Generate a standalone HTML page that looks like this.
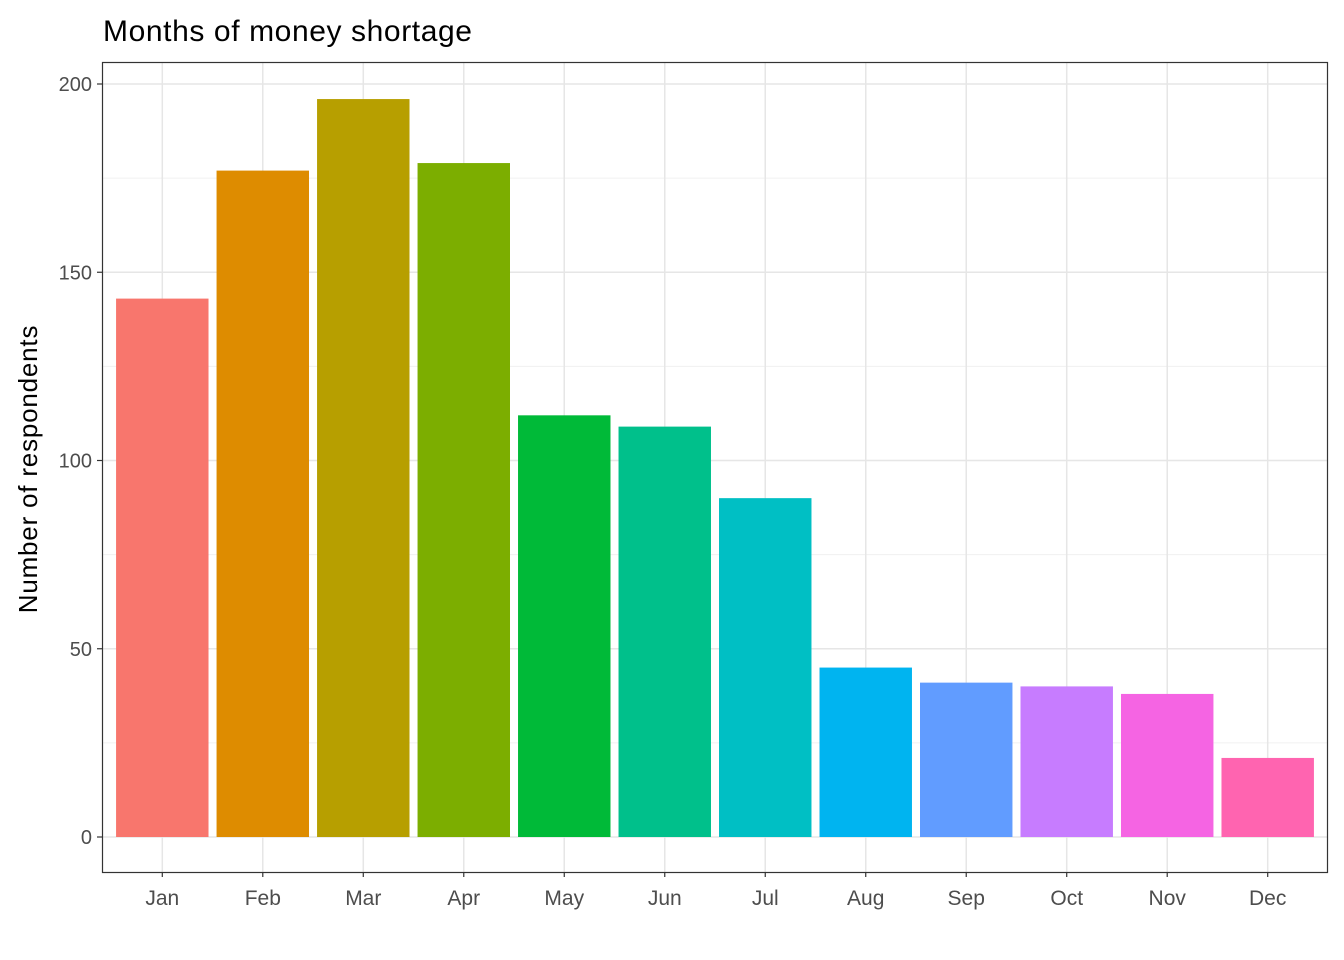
<!DOCTYPE html>
<html><head><meta charset="utf-8"><style>
body{margin:0;background:#fff;}
svg{display:block;font-family:"Liberation Sans",Arial,sans-serif;}
</style></head><body>
<svg id="chart" width="1344" height="960">
<text x="103" y="41" font-size="30" letter-spacing="0.6" fill="#000">Months of money shortage</text>
<g id="grid"></g>
<g id="bars"></g>
<rect x="102.5" y="62.5" width="1225" height="810" fill="none" stroke="#333" stroke-width="1.2"/>
<g id="axes"></g>
<text transform="translate(37,469) rotate(-90)" text-anchor="middle" font-size="26" letter-spacing="0.8" fill="#000">Number of respondents</text>
</svg>
<script>
const categories=["Jan","Feb","Mar","Apr","May","Jun","Jul","Aug","Sep","Oct","Nov","Dec"];
const values=[143,177,196,179,112,109,90,45,41,40,38,21];
const colors=["#F8766D","#DE8C00","#B79F00","#7CAE00","#00BA38","#00C08B","#00BFC4","#00B4F0","#619CFF","#C77CFF","#F564E3","#FF64B0"];
const yTicks=[0,50,100,150,200];
const NS="http://www.w3.org/2000/svg";
const panelLeft=102,panelRight=1328,panelTop=62,panelBottom=872;
const y0=837,y200=84;
const yScale=v=>y0+(y200-y0)*v/200;
const step=(panelRight-panelLeft)/(categories.length+0.2);
const xScale=i=>panelLeft+step*(0.6+i);
const bw=step*0.92;
function mk(tag,attrs,parent){const e=document.createElementNS(NS,tag);for(const k in attrs)e.setAttribute(k,attrs[k]);parent.appendChild(e);return e;}
const grid=document.getElementById('grid'),bars=document.getElementById('bars'),axes=document.getElementById('axes');
for(let i=0;i<yTicks.length-1;i++){const m=(yTicks[i]+yTicks[i+1])/2;
const l=mk('line',{x1:panelLeft,x2:panelRight,y1:yScale(m),y2:yScale(m),stroke:'#f0f0f0','stroke-width':1},grid);

}
yTicks.forEach(t=>{const l=mk('line',{x1:panelLeft,x2:panelRight,y1:yScale(t),y2:yScale(t),stroke:'#e6e6e6','stroke-width':1.5},grid);


const tk=mk('line',{x1:panelLeft-5,x2:panelLeft,y1:yScale(t),y2:yScale(t),stroke:'#333','stroke-width':1.2},axes);


const tx=mk('text',{x:panelLeft-10,y:yScale(t)+7,'text-anchor':'end','font-size':20,fill:'#4d4d4d'},axes);
tx.textContent=t;

});
categories.forEach((c,i)=>{const l=mk('line',{x1:xScale(i),x2:xScale(i),y1:panelTop,y2:panelBottom,stroke:'#e6e6e6','stroke-width':1.5},grid);


const r=mk('rect',{x:xScale(i)-bw/2,y:yScale(values[i]),width:bw,height:yScale(0)-yScale(values[i]),fill:colors[i]},bars);


const tk=mk('line',{x1:xScale(i),x2:xScale(i),y1:panelBottom,y2:panelBottom+5,stroke:'#333','stroke-width':1.2},axes);


const tx=mk('text',{x:xScale(i),y:panelBottom+33,'text-anchor':'middle','font-size':21,fill:'#4d4d4d'},axes);
tx.textContent=c;

});
</script>
</body></html>
